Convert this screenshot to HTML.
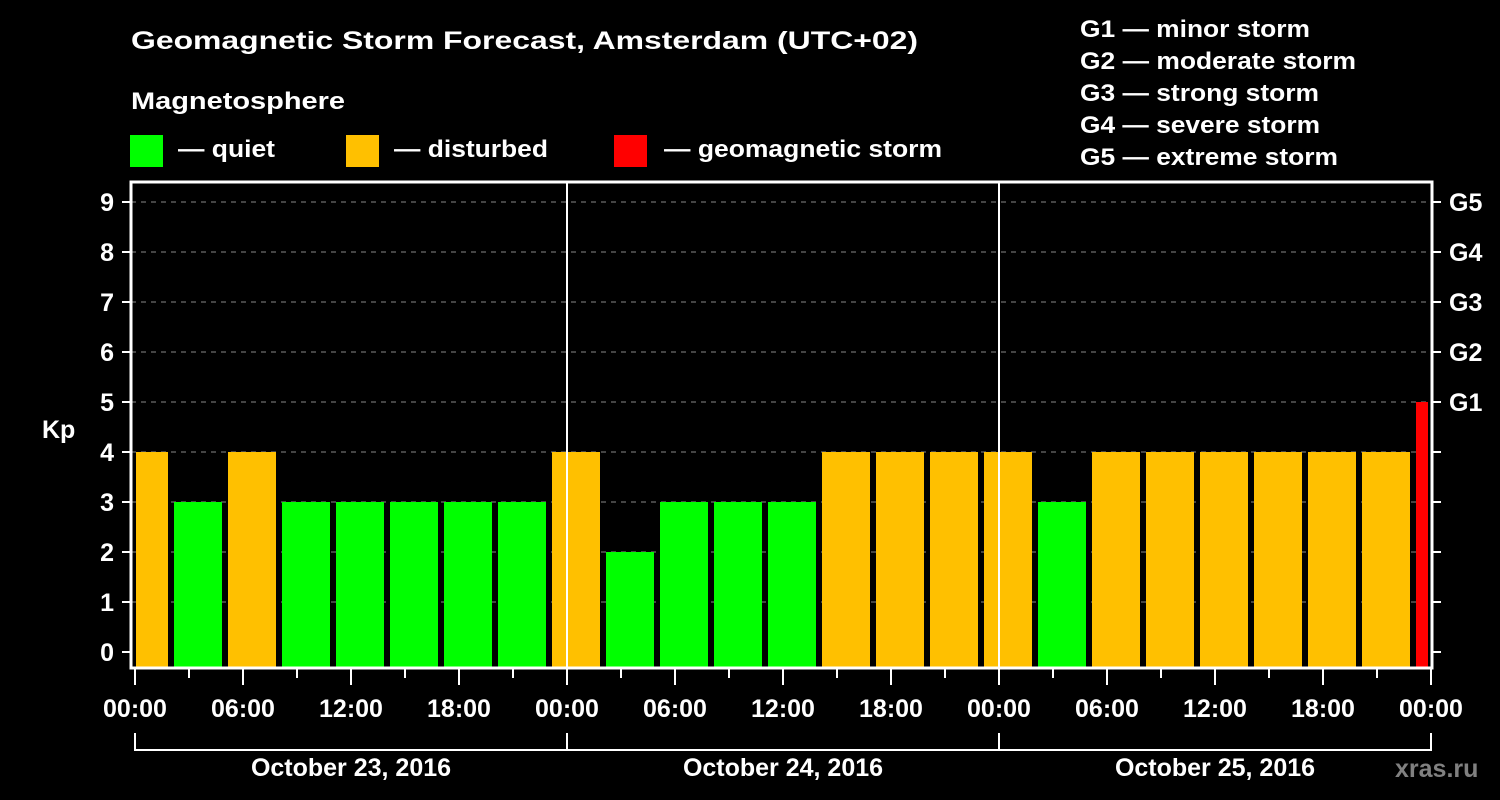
<!DOCTYPE html>
<html><head><meta charset="utf-8"><style>
html,body{margin:0;padding:0;background:#000;width:1500px;height:800px;overflow:hidden}
svg{display:block;font-family:"Liberation Sans",Arial,sans-serif;font-weight:bold}
</style></head><body>
<svg id="chart" width="1500" height="800" viewBox="0 0 1500 800">
<rect x="0" y="0" width="1500" height="800" fill="#000"/>
<text x="131" y="49" fill="#fff" font-size="25" textLength="787" lengthAdjust="spacingAndGlyphs">Geomagnetic Storm Forecast, Amsterdam (UTC+02)</text>
<text x="131" y="109" fill="#fff" font-size="24" textLength="214" lengthAdjust="spacingAndGlyphs">Magnetosphere</text>
<g>
<rect x="130" y="135" width="33" height="32" fill="#00ff00"/>
<text x="178" y="157" fill="#fff" font-size="24" textLength="97" lengthAdjust="spacingAndGlyphs">— quiet</text>
</g>
<g>
<rect x="346" y="135" width="33" height="32" fill="#ffc000"/>
<text x="394" y="157" fill="#fff" font-size="24" textLength="154" lengthAdjust="spacingAndGlyphs">— disturbed</text>
</g>
<g>
<rect x="614" y="135" width="33" height="32" fill="#ff0000"/>
<text x="664" y="157" fill="#fff" font-size="24" textLength="278" lengthAdjust="spacingAndGlyphs">— geomagnetic storm</text>
</g>
<g>
<text x="1080" y="37" fill="#fff" font-size="24" textLength="230" lengthAdjust="spacingAndGlyphs">G1 — minor storm</text>
<text x="1080" y="69" fill="#fff" font-size="24" textLength="276" lengthAdjust="spacingAndGlyphs">G2 — moderate storm</text>
<text x="1080" y="101" fill="#fff" font-size="24" textLength="239" lengthAdjust="spacingAndGlyphs">G3 — strong storm</text>
<text x="1080" y="133" fill="#fff" font-size="24" textLength="240" lengthAdjust="spacingAndGlyphs">G4 — severe storm</text>
<text x="1080" y="165" fill="#fff" font-size="24" textLength="258" lengthAdjust="spacingAndGlyphs">G5 — extreme storm</text>
</g>
<defs><clipPath id="plotclip"><rect x="136" y="182" width="1292" height="486"/></clipPath></defs>
<g id="grid"></g>
<g id="bars" clip-path="url(#plotclip)"></g>
<g id="axes"></g>
<text x="42" y="438" fill="#fff" font-size="25">Kp</text>
<text x="1395" y="777" fill="#808080" font-size="25">xras.ru</text>
</svg>
<script>
const kpValues = [4,3,4,3,3,3,3,3,4,2,3,3,3,4,4,4,4,3,4,4,4,4,4,4,5];
const yTickLabels = ["0","1","2","3","4","5","6","7","8","9"];
const gLabels = ["G1","G2","G3","G4","G5"];
const hourLabels = ["00:00","06:00","12:00","18:00"];
const dayLabels = ["October 23, 2016","October 24, 2016","October 25, 2016"];

const NS = "http://www.w3.org/2000/svg";
const X0 = 135, PX_PER_HOUR = 18, Y0 = 652, PX_PER_KP = 50;
const LEFT = 131, RIGHT = 1432, TOP = 182, BOTTOM = 668;
const xScale = h => X0 + h * PX_PER_HOUR;
const yScale = v => Y0 - v * PX_PER_KP;
function mk(tag, attrs, parent){const e=document.createElementNS(NS,tag);for(const k in attrs)e.setAttribute(k,attrs[k]);parent.appendChild(e);return e;}
const grid=document.getElementById('grid'), bars=document.getElementById('bars'), axes=document.getElementById('axes');

for(let v=1; v<yTickLabels.length; v++){
  const l=mk('line',{x1:LEFT,x2:RIGHT,y1:yScale(v),y2:yScale(v),stroke:'#888','stroke-width':1,'stroke-dasharray':'5,5'},grid);
  
  
}
kpValues.forEach((v,i)=>{
  const c = v>=5 ? '#ff0000' : (v>=4 ? '#ffc000' : '#00ff00');
  const cx = xScale(0.5 + 3*i);
  const r=mk('rect',{x:cx-24,y:yScale(v),width:48,height:BOTTOM-yScale(v),fill:c},bars);
  
  
});
// frame
const fr=mk('rect',{x:LEFT,y:TOP,width:RIGHT-LEFT,height:BOTTOM-TOP,fill:'none',stroke:'#fff','stroke-width':3},axes);


// day separators
for(let d=1; d<dayLabels.length; d++){
  const l=mk('line',{x1:xScale(24*d),x2:xScale(24*d),y1:TOP,y2:BOTTOM,stroke:'#fff','stroke-width':2},axes);
  
  
}
// y ticks & labels
yTickLabels.forEach((t,v)=>{
  const y=yScale(v);
  const tk=mk('line',{x1:122,x2:LEFT,y1:y,y2:y,stroke:'#fff','stroke-width':2},axes);
  
  
  const tr=mk('line',{x1:RIGHT,x2:1441,y1:y,y2:y,stroke:'#fff','stroke-width':2},axes);
  
  
  const tx=mk('text',{x:114,y:y+9,fill:'#fff','font-size':25,'text-anchor':'end'},axes);
  tx.textContent=t;
  
  
});
gLabels.forEach((g,i)=>{
  const tx=mk('text',{x:1449,y:yScale(5+i)+9,fill:'#fff','font-size':25},axes);
  tx.textContent=g;
  
  
});
// x ticks
const totalHours = 24*dayLabels.length;
for(let h=0; h<=totalHours; h+=3){
  const major = h%6===0;
  const t=mk('line',{x1:xScale(h),x2:xScale(h),y1:BOTTOM,y2:major?685:678,stroke:'#fff','stroke-width':2},axes);
  
  
  if(major){
    const tx=mk('text',{x:xScale(h),y:717,fill:'#fff','font-size':25,'text-anchor':'middle'},axes);
    tx.textContent=hourLabels[(h%24)/6];
    
    
  }
}
// date brackets
const br=mk('line',{x1:xScale(0),x2:xScale(totalHours),y1:750,y2:750,stroke:'#fff','stroke-width':2},axes);


for(let d=0; d<=dayLabels.length; d++){
  const l=mk('line',{x1:xScale(24*d),x2:xScale(24*d),y1:733,y2:751,stroke:'#fff','stroke-width':2},axes);
  
  
}
dayLabels.forEach((s,d)=>{
  const tx=mk('text',{x:xScale(24*d+12),y:776,fill:'#fff','font-size':25,'text-anchor':'middle'},axes);
  tx.textContent=s;
  
  
});
</script>
</body></html>
